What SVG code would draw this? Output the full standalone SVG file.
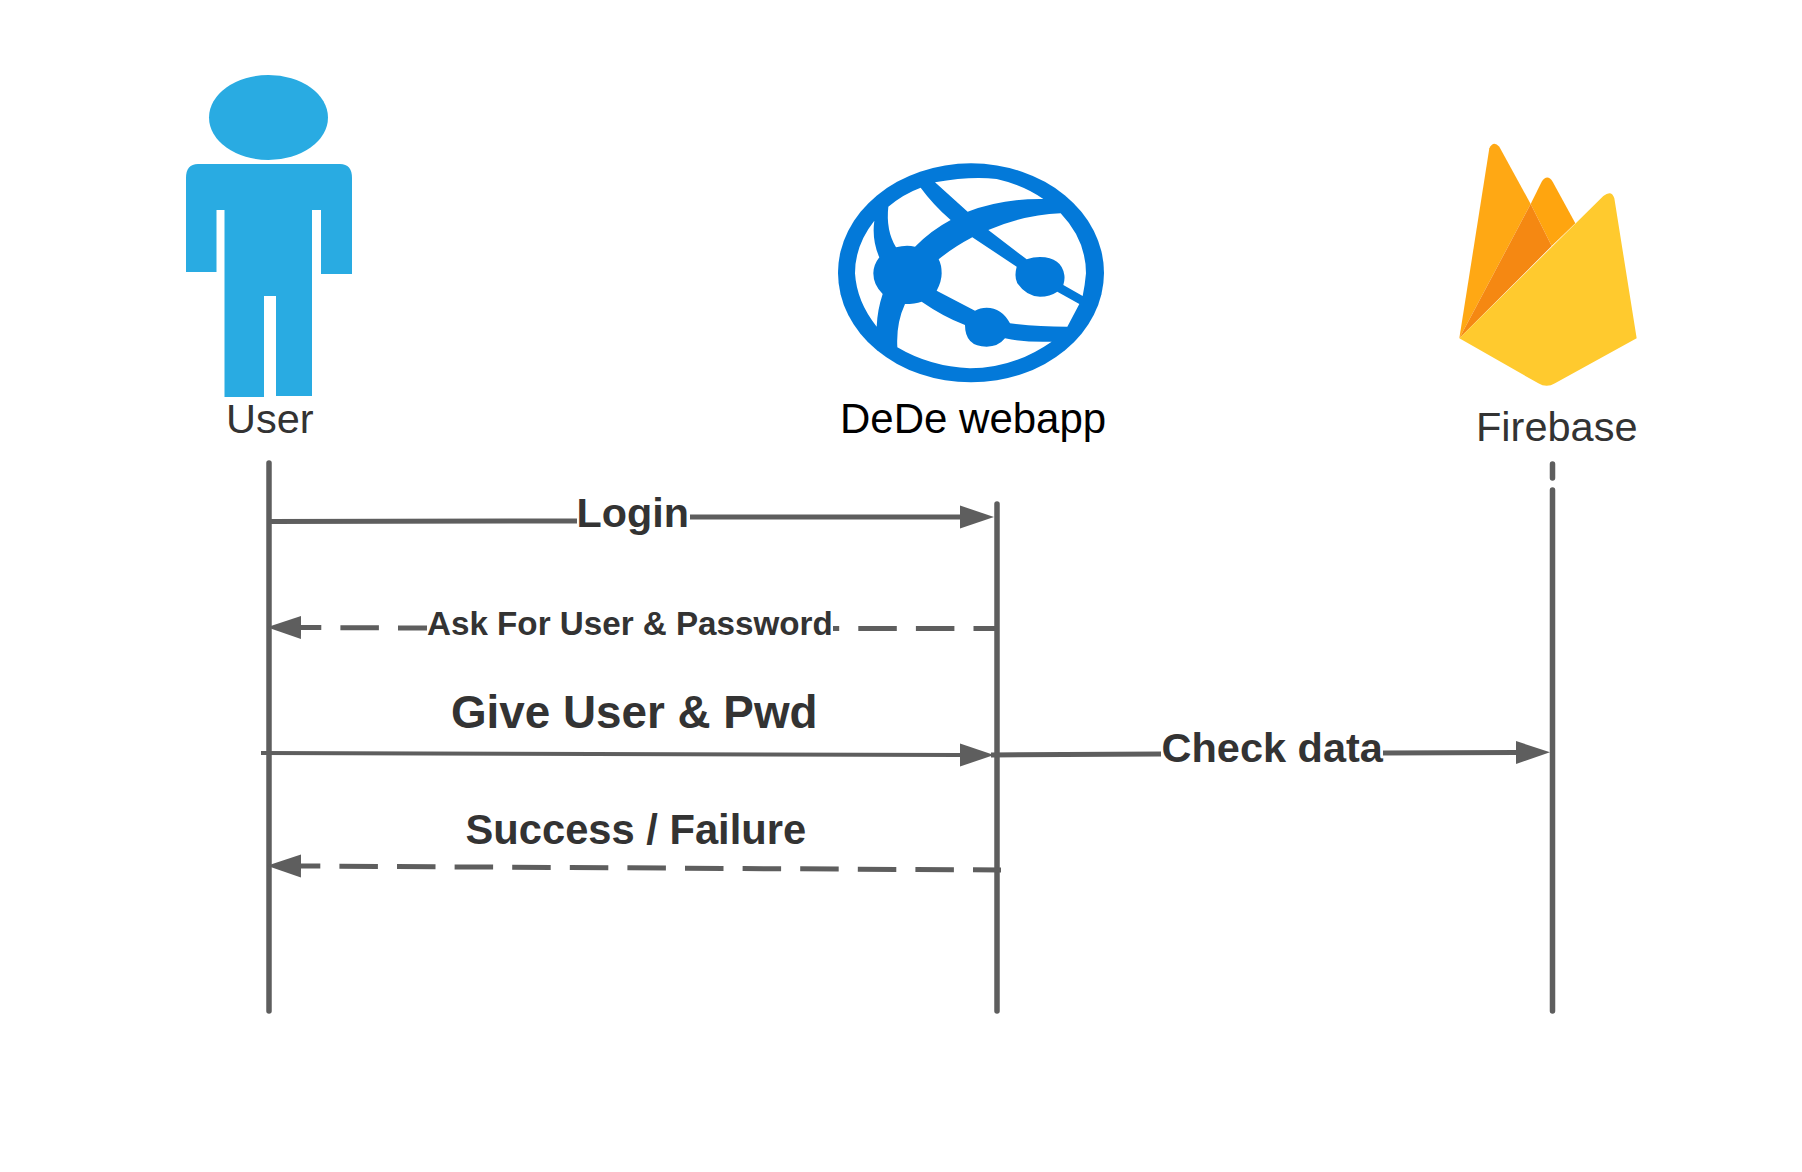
<svg xmlns="http://www.w3.org/2000/svg" width="1802" height="1172" viewBox="0 0 1802 1172">
<defs>
<style>
text{font-family:"Liberation Sans",Arial,sans-serif;fill:#333}
.b{font-weight:700}
.life{stroke:#5e5e5e;stroke-width:5.500;stroke-linecap:round;fill:none}
.msg{stroke:#5e5e5e;stroke-width:5;fill:none}
.dash{stroke-dasharray:38.5 19.1}
.web{fill:#fff}
</style>
<marker id="head" markerUnits="userSpaceOnUse" markerWidth="36" markerHeight="26" refX="0" refY="12" orient="auto"><path d="M0,0.5 L34,12 L0,23.5Z" fill="#5e5e5e"/></marker>
</defs>
<rect width="1802" height="1172" fill="#fff"/>
<g id="user">
<ellipse cx="268.500" cy="117.500" rx="59.500" ry="42.500" fill="#29abe2"/>
<path d="M198,164 H340 Q352,164 352,178 V274 H321 V210 H312 V396 H276 V296 H264 V397 H224.500 V210 H216.500 V272 H186 V178 Q186,164 198,164Z" fill="#29abe2"/>
<text x="226" y="433" font-size="41.500">User</text>
</g>
<g id="webapp">
<g transform="translate(820 150) scale(.33333)">
<ellipse cx="453" cy="368.500" rx="399" ry="328.500" fill="#0379d9"/>
<path class="web" d="M163,212 Q105,285 105,370 Q110,455 170,530 Q172,480 188,432 Q160,405 160,370 Q160,345 178,322 Q155,270 163,212Z"/>
<path class="web" d="M205,170 Q250,132 302,113 Q340,165 392,210 Q335,240 285,290 Q258,284 228,292 Q197,240 205,170Z"/>
<path class="web" d="M345,97 Q450,78 530,87 Q610,105 670,147 Q550,145 443,185Z"/>
<path class="web" d="M505,240 Q610,195 722,190 Q798,270 798,370 Q795,405 788,438 L730,405 Q735,390 733,375 Q725,322 660,321 Q640,321 620,328Z"/>
<path class="web" d="M457,262 L590,350 Q582,380 592,400 Q620,440 660,440 Q690,440 712,425 L778,462 L742,530 Q650,530 570,520 Q545,473 500,473 Q480,473 465,482 L350,422 Q365,395 365,370 Q365,345 356,328 Q400,292 457,262Z"/>
<path class="web" d="M232,592 Q228,520 255,462 Q285,462 305,455 Q370,500 435,525 Q435,590 500,590 Q535,590 555,565 Q620,578 695,575 Q580,655 450,655 Q330,650 232,592Z"/>
</g>
<text x="840" y="433" font-size="42" style="fill:#000">DeDe webapp</text>
</g>
<g id="firebase">
<g transform="translate(1430 130) scale(.33333)">
<path d="M88,625 L178,55 Q190,30 208,50 L302,222Z" fill="#ffa814"/>
<path d="M302,222 L335,155 Q352,130 368,155 L436,280 L365,348Z" fill="#ffa50f"/>
<path d="M88,625 L302,222 L365,348Z" fill="#f58812"/>
<path d="M88,625 L520,198 Q545,178 553,205 L620,625 L375,760 Q350,775 325,760Z" fill="#ffca2e"/>
</g>
<text x="1476" y="441" font-size="41.500">Firebase</text>
</g>
<g id="connectors">
<path class="life" d="M269,463 V1011"/>
<path class="life" d="M997,504 V1011"/>
<path class="life" d="M1552.500,464 V478 M1552.500,490 V1011"/>
<path class="msg" d="M270,521.500 L577,521"/>
<path class="msg" marker-end="url(#head)" d="M690,517 L960,517"/>
<path class="msg dash" stroke-dashoffset="15" d="M997,628.500 L833,628.500"/>
<path class="msg dash" marker-end="url(#head)" stroke-dashoffset="9.500" d="M427,628 L301,627.500"/>
<path class="msg" marker-end="url(#head)" style="stroke-width:4" d="M261,753 L960,755"/>
<path class="msg" d="M991,755 L1161,754"/>
<path class="msg" marker-end="url(#head)" d="M1383,753 L1516,752.500"/>
<path class="msg dash" marker-end="url(#head)" stroke-dashoffset="10.500" d="M1001,870 L301,866"/>
</g>
<g id="labels">
<text class="b" x="576.500" y="527" font-size="41.300">Login</text>
<text class="b" x="427" y="635" font-size="33.200">Ask For User &amp; Password</text>
<text class="b" x="451" y="728" font-size="45.800">Give User &amp; Pwd</text>
<text class="b" x="465.500" y="844" font-size="41.700">Success / Failure</text>
<text class="b" x="1161.500" y="762" font-size="41.500">Check data</text>
</g>
</svg>
